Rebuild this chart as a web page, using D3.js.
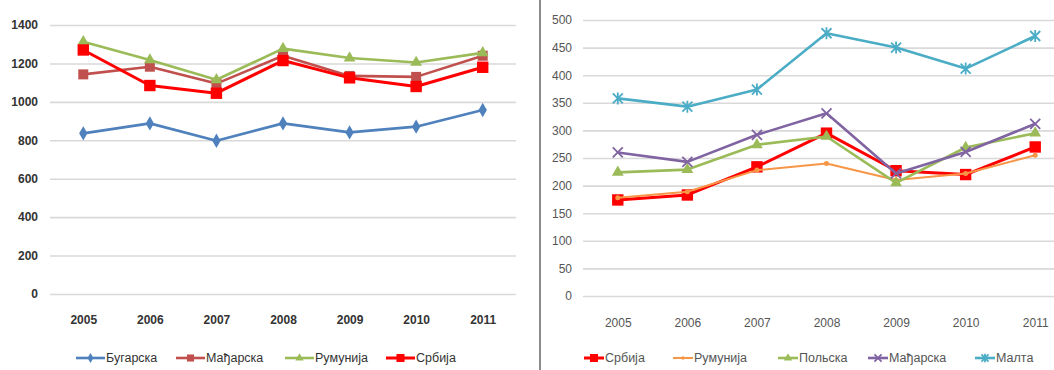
<!DOCTYPE html>
<html><head><meta charset="utf-8">
<script src="https://cdn.jsdelivr.net/npm/d3@7"></script>
<style>body{margin:0;background:#fff}svg{display:block;font-family:"Liberation Sans",Arial,sans-serif}</style>
</head><body><svg id="c" width="1054" height="370"></svg>
<script>
const years = ["2005","2006","2007","2008","2009","2010","2011"];
// Left chart
const leftNames = ["Бугарска","Мађарска","Румунија","Србија"];
const bulgaria = [836, 888, 798, 888, 841, 871, 958];
const hungaryL = [1143, 1183, 1095, 1240, 1135, 1130, 1240];
const romaniaL = [1313, 1218, 1115, 1277, 1228, 1205, 1255];
const serbiaL  = [1270, 1085, 1045, 1215, 1125, 1080, 1180];
const leftTicks = [0,200,400,600,800,1000,1200,1400];
// Right chart
const rightNames = ["Србија","Румунија","Польска","Мађарска","Малта"];
const serbiaR  = [174, 183, 234, 295, 227, 220, 270];
const romaniaR = [178, 189, 228, 240, 210, 222, 255];
const polandR  = [224, 229, 274, 289, 205, 269, 295];
const hungaryR = [260, 243, 292, 331, 222, 261, 312];
const maltaR   = [358, 343, 374, 476, 450, 412, 471];
const rightTicks = [0,50,100,150,200,250,300,350,400,450,500];

const svg = d3.select("#c");

function symPath(type, size){ return d3.symbol().type(type).size(size)(); }
function xMark(s){ return `M${-s},${-s}L${s},${s}M${-s},${s}L${s},${-s}`; }
function starMark(s){ return `M${-s},${-s}L${s},${s}M${-s},${s}L${s},${-s}M0,${-s*1.2}L0,${s*1.2}`; }

function drawMarker(g, m, color, k){
  k = k || 1;
  if (m.kind === "diamond") g.append("path").attr("d", symPath(d3.symbolDiamond, 60*k)).attr("fill", color);
  else if (m.kind === "square") g.append("path").attr("d", symPath(d3.symbolSquare, m.size*k)).attr("fill", color);
  else if (m.kind === "triangle") g.append("path").attr("d", symPath(d3.symbolTriangle, 60*k)).attr("fill", color);
  else if (m.kind === "circle") g.append("path").attr("d", symPath(d3.symbolCircle, 20*k)).attr("fill", color);
  else if (m.kind === "x") g.append("path").attr("d", xMark(5*Math.sqrt(k))).attr("stroke", color).attr("stroke-width", 1.8).attr("fill","none");
  else if (m.kind === "star") g.append("path").attr("d", starMark(5*Math.sqrt(k))).attr("stroke", color).attr("stroke-width", 1.8).attr("fill","none");
}

function chart(opt){
  const x = d3.scalePoint().domain(years).range([opt.x0, opt.x1]).padding(0.5);
  const y = d3.scaleLinear().domain([0, opt.max]).range([opt.y0, opt.y1]);
  const g = svg.append("g");
  const yAxis = d3.axisLeft(y).tickValues(opt.ticks).tickFormat(d3.format("d"))
    .tickSize(-(opt.x1 - opt.x0)).tickPadding(opt.tickPad);
  const ga = g.append("g").attr("transform", `translate(${opt.x0},0)`).call(yAxis);
  ga.select(".domain").remove();
  ga.selectAll(".tick line").attr("stroke", "#d9d9d9").attr("stroke-width", 1.6);
  ga.selectAll(".tick text").attr("font-size", 12).attr("fill", opt.yColor).attr("font-weight", opt.yWeight);
  const xAxis = d3.axisBottom(x).tickSize(0).tickPadding(0);
  const gx = g.append("g").attr("transform", `translate(0,${opt.xLabelY})`).call(xAxis);
  gx.select(".domain").remove();
  gx.selectAll(".tick text").attr("font-size", 12).attr("fill", opt.xColor).attr("font-weight", opt.xWeight).attr("dy", "0.35em");
  const line = d3.line().x((d,i) => x(years[i])).y(d => y(d));
  opt.series.forEach(s => {
    g.append("path").datum(s.values).attr("d", line).attr("fill", "none")
      .attr("stroke", s.color).attr("stroke-width", s.width || 2.6).attr("stroke-linejoin", "round");
    s.values.forEach((v,i) => {
      const mg = g.append("g").attr("transform", `translate(${x(years[i])},${y(v)})`);
      drawMarker(mg, s.marker, s.color, 1);
    });
  });
  const lg = g.append("g");
  opt.series.forEach((s, i) => {
    const lx = opt.legendX[i];
    const it = lg.append("g").attr("transform", `translate(${lx},${opt.legendY})`);
    it.append("line").attr("x1", 0).attr("x2", opt.legendLen).attr("y1", 0).attr("y2", 0)
      .attr("stroke", s.color).attr("stroke-width", s.width || 2.6);
    const mg = it.append("g").attr("transform", `translate(${opt.legendLen/2},0)`);
    drawMarker(mg, s.marker, s.color, 0.5);
    it.append("text").attr("x", opt.legendLen + 1).attr("y", 0).attr("dy", "0.35em")
      .attr("font-size", 12.5).attr("fill", opt.legendColor).text(s.name);
  });
}

chart({
  x0: 50, x1: 516, y0: 294, y1: 25, max: 1400, ticks: leftTicks, tickPad: 12,
  yColor: "#333", yWeight: "bold", xColor: "#333", xWeight: "bold", xLabelY: 320,
  legendY: 358, legendLen: 29, legendX: [76, 176, 285, 386], legendColor: "#333",
  series: [
    {name: leftNames[0], values: bulgaria, color: "#4F81BD", marker: {kind: "diamond"}},
    {name: leftNames[1], values: hungaryL, color: "#C0504D", marker: {kind: "square", size: 100}},
    {name: leftNames[2], values: romaniaL, color: "#9BBB59", marker: {kind: "triangle"}},
    {name: leftNames[3], values: serbiaL, color: "#FF0000", marker: {kind: "square", size: 130}, width: 3}
  ]
});

svg.append("line").attr("x1", 540).attr("x2", 540).attr("y1", 0).attr("y2", 370)
  .attr("stroke", "#8c8c8c").attr("stroke-width", 2);

chart({
  x0: 583, x1: 1070, y0: 296, y1: 20, max: 500, ticks: rightTicks, tickPad: 11,
  yColor: "#555", yWeight: "normal", xColor: "#555", xWeight: "normal", xLabelY: 323,
  legendY: 358, legendLen: 20, legendX: [584, 673, 778, 868, 975], legendColor: "#555",
  series: [
    {name: rightNames[0], values: serbiaR, color: "#FF0000", marker: {kind: "square", size: 130}, width: 3},
    {name: rightNames[1], values: romaniaR, color: "#F79646", marker: {kind: "circle"}, width: 2},
    {name: rightNames[2], values: polandR, color: "#9BBB59", marker: {kind: "triangle"}},
    {name: rightNames[3], values: hungaryR, color: "#8064A2", marker: {kind: "x"}},
    {name: rightNames[4], values: maltaR, color: "#4BACC6", marker: {kind: "star"}}
  ]
});
</script></body></html>
